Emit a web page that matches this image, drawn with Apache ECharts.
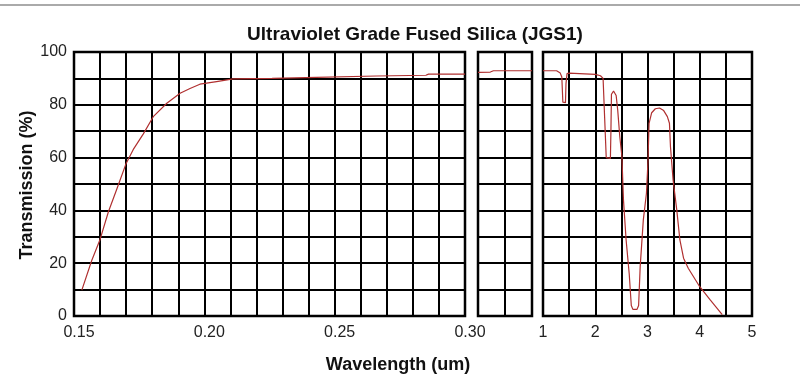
<!DOCTYPE html>
<html>
<head>
<meta charset="utf-8">
<title>Ultraviolet Grade Fused Silica (JGS1)</title>
<script src="https://cdn.jsdelivr.net/npm/echarts@6/dist/echarts.min.js"></script>
<style>
  html, body { margin: 0; padding: 0; background: #fff; }
  #chart { width: 800px; height: 386px; }
</style>
</head>
<body>
<div id="chart"></div>
<script>
// panel 1: 0.15 - 0.30 um
const wl1 = [0.153, 0.1568, 0.160, 0.1632, 0.1664, 0.170, 0.1727, 0.1766, 0.1804, 0.1856, 0.1907, 0.1945,
  0.1983, 0.2047, 0.211, 0.226, 0.243, 0.266, 0.285, 0.286, 0.300]
const tr1 = [9.8, 21, 29, 39.5, 48, 57.8, 63, 69, 75.5, 80.6, 84.4, 86.2,
  87.8, 88.8, 89.8, 90.0, 90.4, 90.9, 91.2, 91.6, 91.6]

// panel 2: 0.30 - 1 um (compressed)
const wl2 = [0.30, 0.46, 0.50, 1.0]
const tr2 = [92.3, 92.4, 92.9, 92.9]

// panel 3: 1 - 5 um
const wl3 = [1.00, 1.26, 1.33, 1.36, 1.38, 1.40, 1.43, 1.44, 1.46, 1.50, 2.00, 2.10, 2.15, 2.18, 2.21, 2.29,
  2.30, 2.31, 2.35, 2.40, 2.43, 2.47, 2.51, 2.54, 2.59, 2.65, 2.69, 2.72, 2.80, 2.83, 2.86, 2.92,
  2.98, 3.01, 3.03, 3.08, 3.15, 3.23, 3.31, 3.38, 3.42, 3.44, 3.49, 3.56, 3.62, 3.69, 3.78, 4.00,
  4.20, 4.43]
const tr3 = [92.9, 92.9, 92.0, 90.5, 81, 80.8, 80.8, 88, 91.8, 92.0, 91.5, 91.0, 90, 75, 60, 59.7,
  70, 84, 85.2, 83.5, 78, 67.9, 60.4, 44, 29, 16, 4, 2.5, 2.5, 4, 18.7, 36.4,
  46.5, 59, 73, 77, 78.5, 78.8, 77.8, 75.5, 73, 64, 51.5, 40.2, 28.8, 21.9, 18.1, 11.1,
  6.1, 0.5]

const title = 'Ultraviolet Grade Fused Silica (JGS1)'
const yName = 'Transmission (%)'
const xName = 'Wavelength (um)'

const lineColor = '#b03030'
const gridLine = { show: true, lineStyle: { color: '#000', width: 2 } }
const labelFont = { fontFamily: 'Liberation Sans', fontSize: 16, color: '#222' }

function pair(xs, ys) {
  return xs.map((x, i) => [x, ys[i]])
}

function yAxisFor(gridIndex, labels) {
  return {
    type: 'value', gridIndex, min: 0, max: 100, interval: 10,
    axisLine: { show: false }, axisTick: { show: false },
    splitLine: gridLine,
    axisLabel: {
      show: labels, ...labelFont, margin: 7,
      formatter: (v) => (v % 20 === 0 ? String(v) : ''),
    },
  }
}

const chart = echarts.init(document.getElementById('chart'))

const option = {
  animation: false,
  backgroundColor: '#fff',
  title: {
    text: title, left: 410, top: 20, textAlign: 'center',
    textStyle: { fontFamily: 'Liberation Sans', fontWeight: 'bold', fontSize: 19, color: '#111' },
  },
  graphic: [
    { type: 'rect', shape: { x: 0, y: 4, width: 800, height: 2 }, style: { fill: '#aaa' } },
    {
      type: 'text', x: 27, y: 185, rotation: Math.PI / 2,
      style: {
        text: yName, fontFamily: 'Liberation Sans', fontWeight: 'bold', fontSize: 18,
        fill: '#111', align: 'center', verticalAlign: 'middle',
      },
    },
    {
      type: 'text', x: 398, y: 365,
      style: {
        text: xName, fontFamily: 'Liberation Sans', fontWeight: 'bold', fontSize: 18,
        fill: '#111', align: 'center', verticalAlign: 'middle',
      },
    },
  ],
  grid: [
    { left: 74, top: 52, width: 391, height: 264, show: true, borderColor: '#000', borderWidth: 2.5 },
    { left: 478, top: 52, width: 54, height: 264, show: true, borderColor: '#000', borderWidth: 2.5 },
    { left: 543, top: 52, width: 209, height: 264, show: true, borderColor: '#000', borderWidth: 2.5 },
  ],
  xAxis: [
    {
      type: 'value', gridIndex: 0, min: 0.15, max: 0.30, interval: 0.01,
      axisLine: { show: false }, axisTick: { show: false }, splitLine: gridLine,
      axisLabel: {
        ...labelFont, margin: 9, padding: [0, 0, 0, 10],
        formatter: (v) => {
          const k = Math.round(v * 100)
          return k % 5 === 0 ? (k / 100).toFixed(2) : ''
        },
      },
    },
    // grid lines for the compressed middle panel
    {
      type: 'value', gridIndex: 1, min: 0, max: 2, interval: 1,
      axisLine: { show: false }, axisTick: { show: false }, splitLine: gridLine,
      axisLabel: { show: false },
    },
    {
      type: 'value', gridIndex: 1, min: 0.3, max: 1.0, position: 'bottom',
      axisLine: { show: false }, axisTick: { show: false }, splitLine: { show: false },
      axisLabel: { show: false },
    },
    {
      type: 'value', gridIndex: 2, min: 1, max: 5, interval: 0.5,
      axisLine: { show: false }, axisTick: { show: false }, splitLine: gridLine,
      axisLabel: {
        ...labelFont, margin: 9,
        formatter: (v) => (Number.isInteger(v) ? String(v) : ''),
      },
    },
  ],
  yAxis: [yAxisFor(0, true), yAxisFor(1, false), yAxisFor(2, false)],
  series: [
    { type: 'line', xAxisIndex: 0, yAxisIndex: 0, data: pair(wl1, tr1) },
    { type: 'line', xAxisIndex: 2, yAxisIndex: 1, data: pair(wl2, tr2) },
    { type: 'line', xAxisIndex: 3, yAxisIndex: 2, data: pair(wl3, tr3) },
  ].map((s) => ({
    ...s, showSymbol: false, smooth: false, z: 5,
    lineStyle: { color: lineColor, width: 1.2 },
  })),
}

chart.setOption(option)
</script>
</body>
</html>
